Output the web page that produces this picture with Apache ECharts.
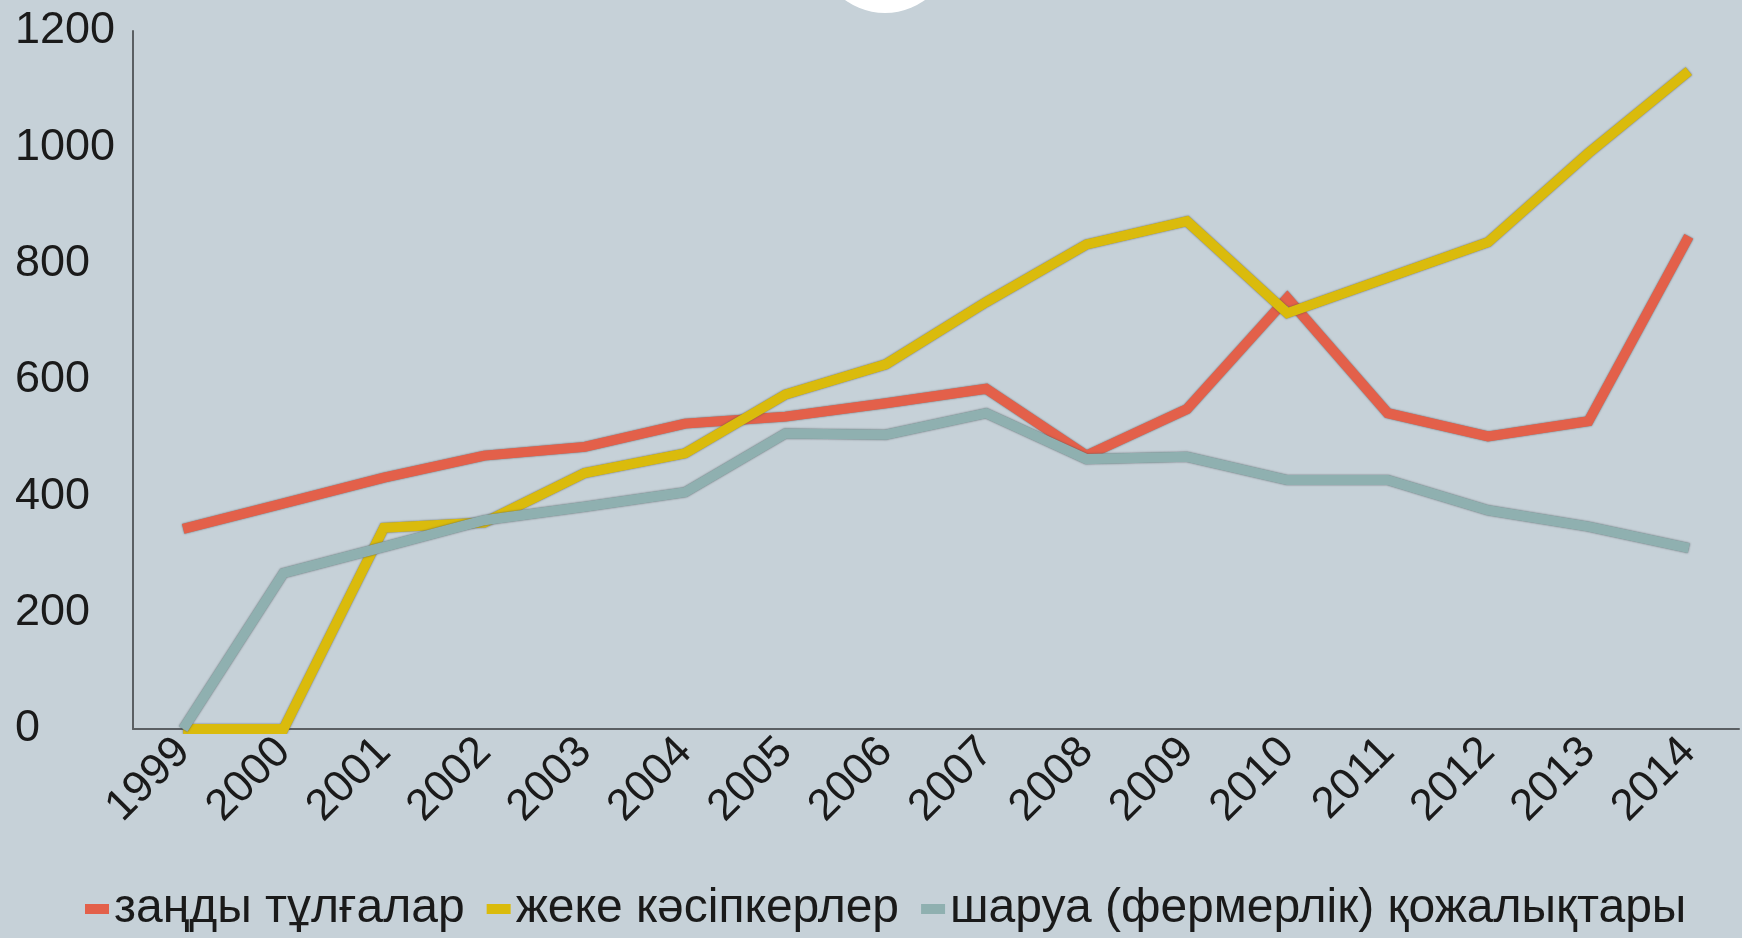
<!DOCTYPE html>
<html>
<head>
<meta charset="utf-8">
<script src="https://cdn.jsdelivr.net/npm/echarts@6/dist/echarts.min.js"></script>
<style>
  html, body { margin: 0; padding: 0; background: #c6d1d8; }
  #chart { width: 1742px; height: 938px; }
</style>
</head>
<body>
<div id="chart"></div>
<script>
// years on the x axis
const years = ['1999', '2000', '2001', '2002', '2003', '2004', '2005', '2006',
  '2007', '2008', '2009', '2010', '2011', '2012', '2013', '2014'];

const seriesNames = ['заңды тұлғалар', 'жеке кәсіпкерлер', 'шаруа (фермерлік) қожалықтары'];

const legalEntities = [344, 388, 432, 470, 485, 525, 537, 560, 585, 470, 550, 741, 543, 503, 529, 847];
const entrepreneurs = [0, 0, 346, 355, 440, 474, 575, 627, 734, 833, 873, 715, 776, 837, 990, 1131];
const farms = [0, 268, 313, 359, 382, 407, 508, 506, 543, 464, 468, 428, 428, 376, 348, 311];

const colors = ['#e3604a', '#dabb0c', '#8fb0b0'];

const font = '"Liberation Sans", Arial, sans-serif';

function lineSeries(name, data, color) {
  return {
    name,
    type: 'line',
    data,
    symbol: 'none',
    lineStyle: {
      width: 10,
      color,
      cap: 'butt',
      join: 'miter',
      shadowColor: 'rgba(70, 75, 80, 0.8)',
      shadowBlur: 2,
    },
    itemStyle: { color },
    emphasis: { disabled: true },
  };
}

const chart = echarts.init(document.getElementById('chart'));
chart.setOption({
  backgroundColor: '#c6d1d8',
  animation: false,
  grid: { left: 133, right: 3, top: 31, bottom: 209 },
  legend: {
    left: 80,
    bottom: 0,
    itemWidth: 24,
    itemHeight: 10,
    itemGap: 22,
    icon: 'rect',
    textStyle: { fontFamily: font, fontSize: 48, color: '#1a1a1a' },
    data: seriesNames,
  },
  xAxis: {
    type: 'category',
    data: years,
    boundaryGap: true,
    axisLine: { lineStyle: { color: '#5a5f63', width: 2 } },
    axisTick: { show: false },
    axisLabel: {
      rotate: 45,
      margin: 16,
      interval: 0,
      fontFamily: font,
      fontSize: 44,
      color: '#1a1a1a',
    },
  },
  yAxis: {
    type: 'value',
    min: 0,
    max: 1200,
    interval: 200,
    axisLine: { show: true, lineStyle: { color: '#5a5f63', width: 2 } },
    axisTick: { show: false },
    splitLine: { show: false },
    axisLabel: {
      align: 'left',
      margin: 118,
      fontFamily: font,
      fontSize: 45,
      color: '#1a1a1a',
      formatter: (v) => String(v),
    },
  },
  graphic: [
    {
      type: 'circle',
      shape: { cx: 885, cy: -55, r: 68 },
      style: { fill: '#ffffff' },
      z: 100,
    },
  ],
  series: [
    lineSeries(seriesNames[0], legalEntities, colors[0]),
    lineSeries(seriesNames[1], entrepreneurs, colors[1]),
    lineSeries(seriesNames[2], farms, colors[2]),
  ],
});
</script>
</body>
</html>
